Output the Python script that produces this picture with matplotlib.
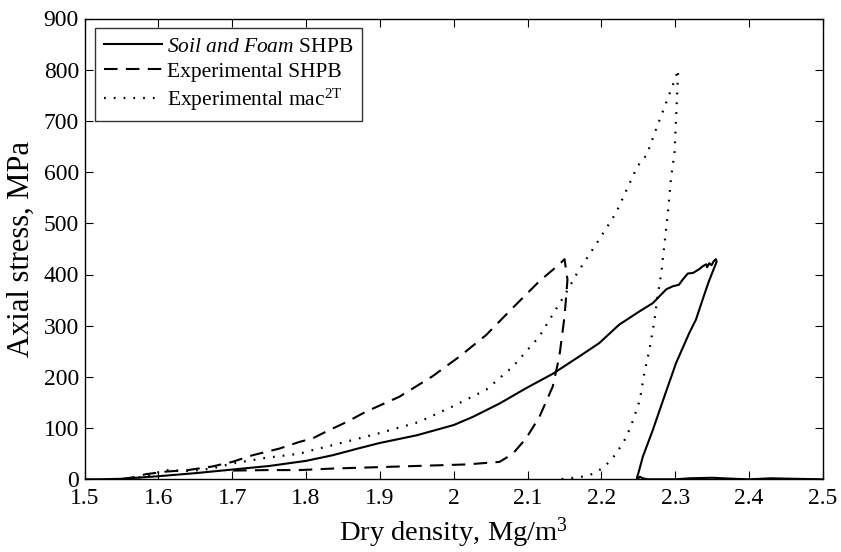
import matplotlib
matplotlib.use("Agg")
import matplotlib.pyplot as plt

plt.rcParams['font.family'] = ['Liberation Serif', 'DejaVu Serif']
plt.rcParams['mathtext.fontset'] = 'custom'
plt.rcParams['mathtext.rm'] = 'Liberation Serif'
plt.rcParams['mathtext.it'] = 'Liberation Serif:italic'

# Soil and Foam SHPB (loading, unloading, tail)
sf_x = [1.50, 1.52, 1.55, 1.60, 1.65, 1.70, 1.75, 1.80, 1.836, 1.87, 1.90, 1.95, 2.00, 2.026,
        2.062, 2.098, 2.134, 2.170, 2.197, 2.224, 2.2515, 2.2695, 2.2877, 2.2966, 2.305, 2.31,
        2.317, 2.324, 2.333, 2.337, 2.342, 2.343, 2.346, 2.349, 2.352, 2.355,
        2.356, 2.345, 2.337, 2.328, 2.319, 2.301, 2.285, 2.2695, 2.256, 2.250, 2.248, 2.249,
        2.252, 2.256, 2.262, 2.30, 2.32, 2.35, 2.38, 2.40, 2.43, 2.46, 2.50]
sf_y = [0, 0, 1, 6, 12, 19, 26, 36, 47, 60, 71, 86, 106, 122,
        148, 178, 206, 240, 266, 302, 328, 344, 371, 377, 380, 390,
        402, 403, 411, 416, 420, 414, 422, 418, 426, 430,
        425, 385, 351, 312, 286, 227, 161, 96, 44, 12, 3, 0,
        5, 2, 0, 0, 2, 3, 1, 0, 2, 1, 0]

# Experimental SHPB
es_x = [1.55, 1.57, 1.583, 1.61, 1.64, 1.673, 1.70, 1.7275, 1.764, 1.791, 1.809, 1.827, 1.855,
        1.881, 1.926, 1.971, 2.008, 2.044, 2.080, 2.116, 2.143, 2.150,
        2.154, 2.150, 2.143, 2.134, 2.116, 2.098, 2.080, 2.062, 2.017, 1.971, 1.904, 1.836,
        1.791, 1.746, 1.70, 1.69]
es_y = [0, 5, 10, 15, 18, 25, 34, 47, 60, 73, 80, 93, 112,
        132, 161, 201, 240, 282, 335, 387, 420, 430,
        390, 318, 240, 181, 122, 80, 50, 34, 29, 27, 24, 21,
        18, 18, 17, 14]

# Experimental mac2T
em_x = [1.56, 1.58, 1.61, 1.642, 1.673, 1.70, 1.746, 1.791, 1.809, 1.845, 1.899, 1.953, 1.998,
        2.044, 2.080, 2.116, 2.134, 2.152, 2.166, 2.184, 2.195, 2.220, 2.247, 2.255, 2.261,
        2.274, 2.288, 2.299, 2.304,
        2.303, 2.301, 2.299, 2.294, 2.290, 2.285, 2.281, 2.276, 2.273, 2.272, 2.265, 2.258,
        2.252, 2.243, 2.234, 2.220, 2.204, 2.197, 2.184, 2.17, 2.143]
em_y = [0, 5, 18, 16, 21, 31, 42, 50, 57, 70, 90, 112, 142,
        175, 220, 279, 322, 364, 400, 440, 464, 521, 606, 625, 632,
        684, 737, 779, 800,
        769, 704, 639, 586, 521, 455, 403, 357, 325, 312, 253, 207,
        155, 116, 83, 50, 24, 18, 8, 4, 0]

x_ticks = [1.5, 1.6, 1.7, 1.8, 1.9, 2.0, 2.1, 2.2, 2.3, 2.4, 2.5]
x_tick_labels = ['1.5', '1.6', '1.7', '1.8', '1.9', '2', '2.1', '2.2', '2.3', '2.4', '2.5']
y_ticks = [0, 100, 200, 300, 400, 500, 600, 700, 800, 900]

labels = [r'$\it{Soil\ and\ Foam}$ SHPB', 'Experimental SHPB', r'Experimental mac$^{\mathrm{2T}}$']

W, H = 841, 552
L, R, T, B = 84.5, 823.0, 18.5, 479.3
fig = plt.figure(figsize=(W / 100, H / 100), dpi=100)
ax = fig.add_axes([L / W, 1 - B / H, (R - L) / W, (B - T) / H])

ax.plot(sf_x, sf_y, '-', color='black', lw=1.5, label=labels[0])
ax.plot(es_x, es_y, '--', color='black', lw=1.5, dashes=(6.5, 4), label=labels[1])
ax.plot(em_x, em_y, ':', color='black', lw=1.6, dashes=(0.8, 3.6), label=labels[2])

ax.set_xlim(1.5, 2.5)
ax.set_ylim(0, 900)
ax.set_xticks(x_ticks)
ax.set_xticklabels(x_tick_labels)
ax.set_yticks(y_ticks)
ax.tick_params(direction='in', top=True, right=True, length=6, width=0.8, labelsize=17)
ax.tick_params(axis='x', pad=6)
ax.tick_params(axis='y', pad=4)
for s in ax.spines.values():
    s.set_linewidth(1.0)

ax.set_xlabel(r'Dry density, Mg/m$^3$', fontsize=20.5)
ax.xaxis.label.set_va('baseline')
ax.xaxis.set_label_coords(0.5, (B - 541) / (B - T))
ax.set_ylabel('Axial stress, MPa', fontsize=22)
ax.yaxis.set_label_coords((21 - L) / (R - L), 0.5)
ax.yaxis.label.set_va('center')

leg = ax.legend(loc='upper left', bbox_to_anchor=((95 - L) / (R - L), (B - 28.3) / (B - T)),
                fontsize=15.5, frameon=True, fancybox=False, edgecolor='black',
                handlelength=2.7, handletextpad=0.25, borderpad=0.4, labelspacing=0.22,
                borderaxespad=0)
leg.get_frame().set_linewidth(1.0)

fig.savefig('out.png', dpi=100)
